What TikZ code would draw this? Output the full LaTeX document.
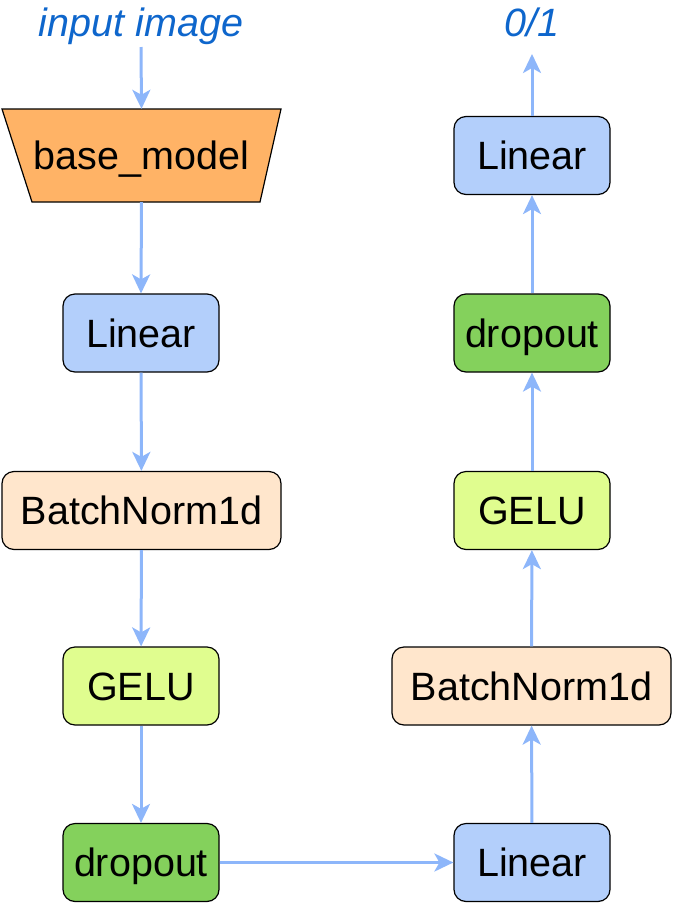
\documentclass[tikz,border=0pt]{standalone}
\usepackage{fontspec}
\setmainfont{Liberation Sans}
\usetikzlibrary{arrows.meta}
\definecolor{linfill}{HTML}{B3CFFB}
\definecolor{bnfill}{HTML}{FFE6CC}
\definecolor{gelufill}{HTML}{E0FD8F}
\definecolor{dropfill}{HTML}{84D15C}
\definecolor{basefill}{HTML}{FFB366}
\definecolor{arrowcol}{HTML}{8DB6FA}
\definecolor{labelcol}{HTML}{0E66CC}
\begin{document}
\begin{tikzpicture}[x=1pt,y=1pt,
  every node/.style={font=\fontsize{39.5}{47}\selectfont, text height=28pt, text depth=0pt, inner sep=0pt},
  layerbox/.style={draw=black, line width=1.2pt, rounded corners=12pt, minimum width=156pt, minimum height=78pt},
  widebox/.style={layerbox, minimum width=279pt},
  lin/.style={layerbox, fill=linfill},
  bn/.style={widebox, fill=bnfill},
  gelu/.style={layerbox, fill=gelufill},
  drop/.style={layerbox, fill=dropfill},
  lbl/.style={text=labelcol, font=\fontsize{39.5}{47}\selectfont\itshape},
  flow/.style={draw=arrowcol, line width=3pt, -{Stealth[length=19pt,width=18pt,inset=5pt]}}
]
\useasboundingbox (0,0) rectangle (673,-903);
% left column
\node[lbl] (in) at (141,-22) {input image};
\coordinate (inend) at (141,-47);
\node[minimum width=228pt, minimum height=93pt] (base) at (141.5,-155.5) {};
\fill[basefill] (2,-109) -- (281,-109) -- (260,-202) -- (32,-202) -- cycle;
\draw[line width=1.2pt, line join=miter] (2,-109) -- (281,-109) -- (260,-202) -- (32,-202) -- cycle;
\node at (base.center) {base\_model};
\node[lin] (l1) at (141,-333) {Linear};
\node[bn] (b1) at (141.5,-510.5) {BatchNorm1d};
\node[gelu] (g1) at (141,-686) {GELU};
\node[drop] (d1) at (141,-862.5) {dropout};
% right column
\node[lin] (l2) at (532,-862.5) {Linear};
\node[bn] (b2) at (531.5,-686) {BatchNorm1d};
\node[gelu] (g2) at (532,-510.5) {GELU};
\node[drop] (d2) at (532,-333) {dropout};
\node[lin] (l3) at (532,-155.5) {Linear};
\node[lbl] (out) at (532,-22) {0/1};
\coordinate (outend) at (532,-54);
% connectors
\draw[flow] (inend) -- (base.north);
\draw[flow] (base.south) -- (l1.north);
\draw[flow] (l1) -- (b1);
\draw[flow] (b1) -- (g1);
\draw[flow] (g1) -- (d1);
\draw[flow] (d1) -- (l2);
\draw[flow] (l2) -- (b2);
\draw[flow] (b2) -- (g2);
\draw[flow] (g2) -- (d2);
\draw[flow] (d2) -- (l3);
\draw[flow] (l3.north) -- (outend);
\end{tikzpicture}
\end{document}
